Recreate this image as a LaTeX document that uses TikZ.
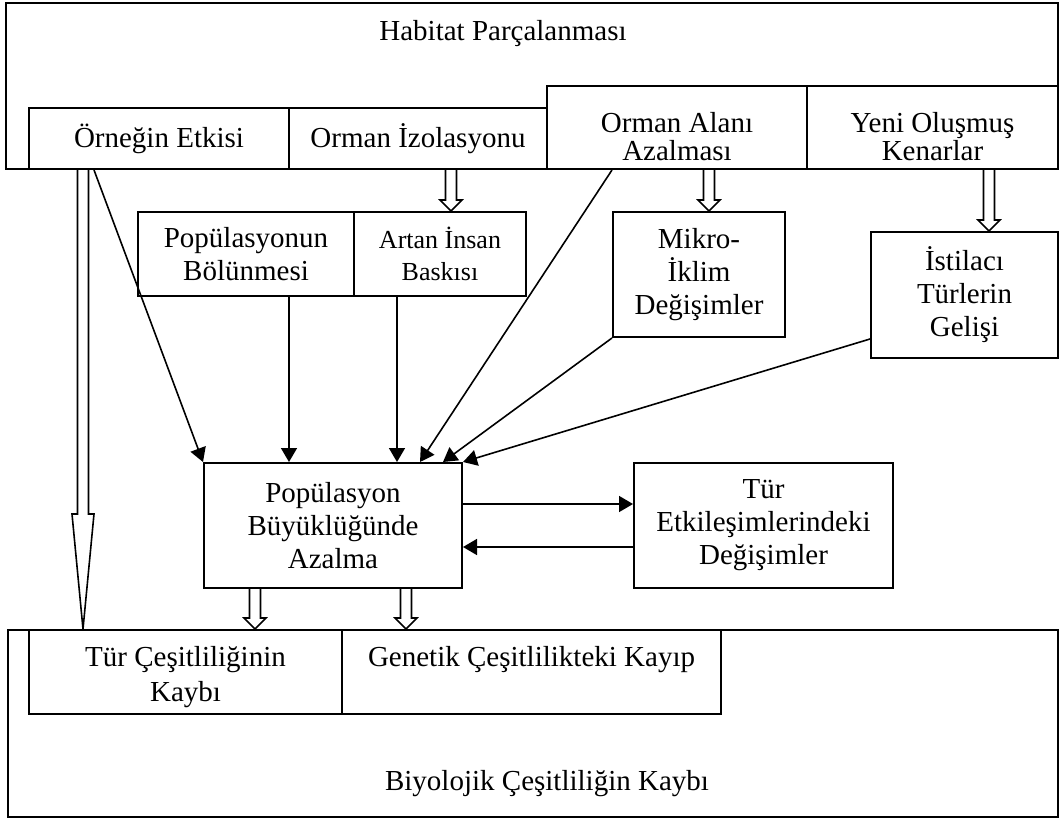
\documentclass[tikz,border=0pt]{standalone}
\usepackage{fontspec}
\setmainfont{Liberation Serif}
\usetikzlibrary{arrows.meta,calc}

\begin{document}
\begin{tikzpicture}[x=0.5pt,y=-0.5pt,
  box/.style={draw,line width=1pt,inner sep=0pt,align=center,anchor=north west,
              font=\fontsize{14.5}{16.5}\selectfont},
  link/.style={line width=0.8pt,-{Triangle[length=7pt,width=8pt]}},
  fatarrow/.style={line width=0.8pt,to path={
      ($(\tikztostart)+(-5.5,0)$) -- ($(\tikztotarget)+(-5.5,-#1)$)
      -- ($(\tikztotarget)+(-11,-#1)$) -- (\tikztotarget)
      -- ($(\tikztotarget)+(11,-#1)$) -- ($(\tikztotarget)+(5.5,-#1)$)
      -- ($(\tikztostart)+(5.5,0)$)}},
  fatarrow/.default=11]
  \useasboundingbox (0,0) rectangle (1059,818);
  % top frame
  \node[box,minimum width=526pt,minimum height=83pt] (HP) at (5,2) {};
  \node[font=\fontsize{14.5}{16.5}\selectfont] (HPt) at (503,34) {Habitat Parçalanması};
  \node[box,minimum width=130pt,minimum height=30.5pt]   (OE) at (28,107)  {Örneğin Etkisi};
  \node[box,minimum width=129pt,minimum height=30.5pt]   (OI) at (288,107) {Orman İzolasyonu};
  \node[box,minimum width=130pt,text height=37.5pt,text depth=4pt,
        font=\fontsize{14.5}{14}\selectfont]              (OA) at (546,85)  {Orman Alanı\\Azalması};
  \node[box,minimum width=125.5pt,text height=37.5pt,text depth=4pt,
        font=\fontsize{14.5}{14}\selectfont]              (YK) at (806,85)  {Yeni Oluşmuş\\Kenarlar};
  % middle
  \node[box,minimum width=108pt,minimum height=42pt]     (PB) at (137,211) {Popülasyonun\\Bölünmesi};
  \node[box,minimum width=86pt,minimum height=42pt,
        font=\fontsize{13}{16}\selectfont]                (AI) at (353,211) {Artan İnsan\\Baskısı};
  \node[box,minimum width=86pt,minimum height=62.5pt]    (MI) at (612,211) {Mikro-\\İklim\\Değişimler};
  \node[box,minimum width=93.5pt,minimum height=63pt]    (IT) at (870,231) {İstilacı\\Türlerin\\Gelişi};
  \node[box,minimum width=129pt,minimum height=62.5pt]   (PA) at (203,462) {Popülasyon\\Büyüklüğünde\\Azalma};
  \node[box,minimum width=129.5pt,minimum height=62.5pt] (TE) at (633,462) {Tür\\Etkileşimlerindeki\\Değişimler};
  % bottom frame
  \node[box,minimum width=525pt,minimum height=93.5pt] (BK) at (7,629) {};
  \node[font=\fontsize{14.5}{16.5}\selectfont] (BKt) at (547,784) {Biyolojik Çeşitliliğin Kaybı};
  \node[box,minimum width=156.5pt,text height=35.5pt,text depth=6.5pt,
        font=\fontsize{14.5}{17.5}\selectfont]            (TC) at (28,629)  {Tür Çeşitliliğinin\\Kaybı};
  \node[box,minimum width=189.5pt,text height=18pt,text depth=24pt] (GK) at (341,629) {Genetik Çeşitlilikteki Kayıp};
  % arrow ends
  \coordinate (a1) at ($(OE.south west)+(66,0)$);
  \coordinate (a2) at ($(PB.south)+(43,0)$);
  \coordinate (a3) at ($(AI.south)+(-43,0)$);
  \coordinate (a4) at ($(OA.south west)+(66,0)$);
  \coordinate (b4) at ($(PA.north)+(87,0)$);
  \coordinate (b5) at ($(PA.north)+(110,0)$);
  \coordinate (a6) at ($(IT.south west)+(0,-20)$);
  \coordinate (a7) at ($(PA.east)+(0,-21.5)$);
  \coordinate (a8) at ($(TE.west)+(0,21.5)$);
  \draw[link] (a1) -- (PA.north west);
  \draw[link] (a2) -- (a2 |- PA.north);
  \draw[link] (a3) -- (a3 |- PA.north);
  \draw[link] (a4) -- (b4);
  \draw[link] (MI.south west) -- (b5);
  \draw[link] (a6) -- (PA.north east);
  \draw[link] (a7) -- (a7 -| TE.west);
  \draw[link] (a8) -- (a8 -| PA.east);
  % hollow arrows
  \coordinate (h1) at ($(OI.south)+(33,0)$);
  \coordinate (h2) at ($(OA.south)+(32,0)$);
  \coordinate (h3) at ($(YK.south)+(56.5,0)$);
  \coordinate (h4) at ($(OE.south west)+(55,0)$);
  \coordinate (h5) at ($(PA.south west)+(52,0)$);
  \coordinate (h6) at ($(PA.south west)+(203,0)$);
  \draw[fatarrow] (h1) to (h1 |- AI.north);
  \draw[fatarrow] (h2) to (h2 |- MI.north);
  \draw[fatarrow] (h3) to (h3 |- IT.north);
  \draw[fatarrow=115] (h4) to (h4 |- BK.north);
  \draw[fatarrow] (h5) to (h5 |- TC.north);
  \draw[fatarrow] (h6) to (h6 |- GK.north);
\end{tikzpicture}
\end{document}
